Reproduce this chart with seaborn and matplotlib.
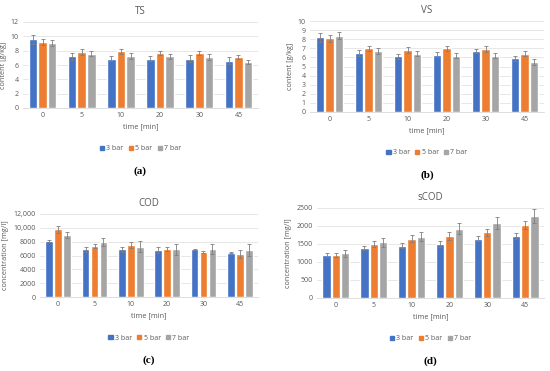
import numpy as np
import pandas as pd
import matplotlib
matplotlib.use("Agg")
import matplotlib.pyplot as plt
import matplotlib.transforms as mtrans
import seaborn as sns
from matplotlib.ticker import FuncFormatter

sns.set_theme(style="white")
plt.rcParams['font.family'] = ['Open Sans', 'DejaVu Sans']

times = ["0", "5", "10", "20", "30", "45"]
pressures = ["3 bar", "5 bar", "7 bar"]
colors = ["#4472C4", "#ED7D31", "#A5A5A5"]

ts_3 = [9.6, 7.2, 6.9, 6.9, 6.9, 6.6]
ts_5 = [9.2, 7.8, 7.9, 7.7, 7.7, 7.1]
ts_7 = [9.1, 7.6, 7.3, 7.2, 7.1, 6.4]
ts_err3 = [0.6, 0.5, 0.4, 0.4, 0.5, 0.5]
ts_err5 = [0.4, 0.4, 0.3, 0.3, 0.3, 0.3]
ts_err7 = [0.4, 0.4, 0.4, 0.3, 0.4, 0.3]

vs_3 = [8.2, 6.5, 6.1, 6.3, 6.7, 5.9]
vs_5 = [8.1, 7.0, 6.8, 7.0, 6.9, 6.4]
vs_7 = [8.4, 6.7, 6.4, 6.2, 6.2, 5.5]
vs_err3 = [0.5, 0.3, 0.3, 0.3, 0.2, 0.3]
vs_err5 = [0.4, 0.3, 0.3, 0.3, 0.3, 0.3]
vs_err7 = [0.4, 0.3, 0.3, 0.3, 0.3, 0.3]

cod_3 = [8100, 6900, 6900, 6800, 6900, 6400]
cod_5 = [9800, 7400, 7500, 6900, 6500, 6200]
cod_7 = [9000, 8000, 7300, 6900, 6900, 6800]
cod_err3 = [200, 400, 400, 400, 100, 100]
cod_err5 = [500, 300, 400, 300, 100, 600]
cod_err7 = [400, 600, 800, 800, 700, 800]

scod_3 = [1200, 1380, 1450, 1510, 1650, 1730]
scod_5 = [1200, 1500, 1650, 1720, 1830, 2030]
scod_7 = [1240, 1550, 1700, 1920, 2080, 2270]
scod_err3 = [60, 60, 70, 80, 80, 80]
scod_err5 = [60, 80, 100, 100, 100, 110]
scod_err7 = [100, 130, 130, 150, 170, 190]

panels = [
    dict(title="TS", ylabel="content [g/kg]", vals=(ts_3, ts_5, ts_7), errs=(ts_err3, ts_err5, ts_err7),
         ylim=12, step=2, fmt=None, label="(a)", rect=(23, 22, 258, 108)),
    dict(title="VS", ylabel="content [g/kg]", vals=(vs_3, vs_5, vs_7), errs=(vs_err3, vs_err5, vs_err7),
         ylim=10, step=1, fmt=None, label="(b)", rect=(310, 21, 544, 112)),
    dict(title="COD", ylabel="concentration [mg/l]", vals=(cod_3, cod_5, cod_7), errs=(cod_err3, cod_err5, cod_err7),
         ylim=12000, step=2000, fmt="cod", label="(c)", rect=(40, 214, 258, 297)),
    dict(title="sCOD", ylabel="concentration [mg/l]", vals=(scod_3, scod_5, scod_7), errs=(scod_err3, scod_err5, scod_err7),
         ylim=2500, step=500, fmt=None, label="(d)", rect=(317, 208, 544, 298)),
]

W, H = 550, 371
fig = plt.figure(figsize=(W / 100, H / 100), dpi=100)
fig.patch.set_facecolor("white")

tick_col = "#595959"

for p in panels:
    x0, y0, x1, y1 = p["rect"]
    ax = fig.add_axes([x0 / W, 1 - y1 / H, (x1 - x0) / W, (y1 - y0) / H])
    rows = []
    for pr, v, e in zip(pressures, p["vals"], p["errs"]):
        for t, vv, ee in zip(times, v, e):
            rows.append(dict(time=t, pressure=pr, value=vv, err=ee))
    df = pd.DataFrame(rows)
    sns.barplot(data=df, x="time", y="value", hue="pressure", order=times, hue_order=pressures,
                palette=colors, errorbar=None, width=0.74, gap=0.12, saturation=1, ax=ax,
                legend=False, zorder=2)
    for i, pr in enumerate(pressures):
        cont = ax.containers[i]
        sub = df[df.pressure == pr].set_index("time").loc[times]
        xs = [b.get_x() + b.get_width() / 2 for b in cont]
        ax.errorbar(xs, sub["value"].values, yerr=sub["err"].values, fmt="none",
                    ecolor="#7f7f7f", elinewidth=0.6, capsize=1.5, capthick=0.6, zorder=3)
    ax.set_ylim(0, p["ylim"])
    ax.set_yticks(np.arange(0, p["ylim"] + p["step"] / 2, p["step"]))
    if p["fmt"] == "cod":
        ax.yaxis.set_major_formatter(FuncFormatter(lambda v, pos: f"{int(v):,}" if v >= 10000 else f"{int(v)}"))
    ax.set_xlim(-0.5, 5.5)
    ax.grid(axis="y", color="#e3e3e3", linewidth=0.6, zorder=0)
    ax.set_axisbelow(True)
    for s in ["top", "right", "left"]:
        ax.spines[s].set_visible(False)
    ax.spines["bottom"].set_color("#d9d9d9")
    ax.spines["bottom"].set_linewidth(0.6)
    ax.tick_params(axis="both", length=0, labelsize=5, colors=tick_col, pad=3)
    ax.set_title(p["title"], fontsize=7, color="#595959", pad=6)
    ax.set_ylabel(p["ylabel"], fontsize=5.2, color=tick_col, labelpad=3)
    ax.set_xlabel("time [min]", fontsize=5.2, color=tick_col, labelpad=3)
    handles = [plt.Rectangle((0, 0), 1, 1, color=c) for c in colors]
    leg_tr = ax.transAxes + mtrans.ScaledTranslation(0, -41 / 100, fig.dpi_scale_trans)
    ax.legend(handles, pressures, loc="center", bbox_to_anchor=(0.5, 0.0), bbox_transform=leg_tr,
              ncol=3, frameon=False, fontsize=5, handlelength=0.6, handleheight=0.6,
              handletextpad=0.3, columnspacing=0.8, labelcolor=tick_col)
    lab_tr = ax.transAxes + mtrans.ScaledTranslation(0, -63 / 100, fig.dpi_scale_trans)
    ax.text(0.5, 0.0, p["label"], transform=lab_tr, ha="center", va="center",
            fontsize=8, fontweight="bold", family="Liberation Serif", color="black")

fig.savefig("out.png", dpi=100, facecolor="white")
